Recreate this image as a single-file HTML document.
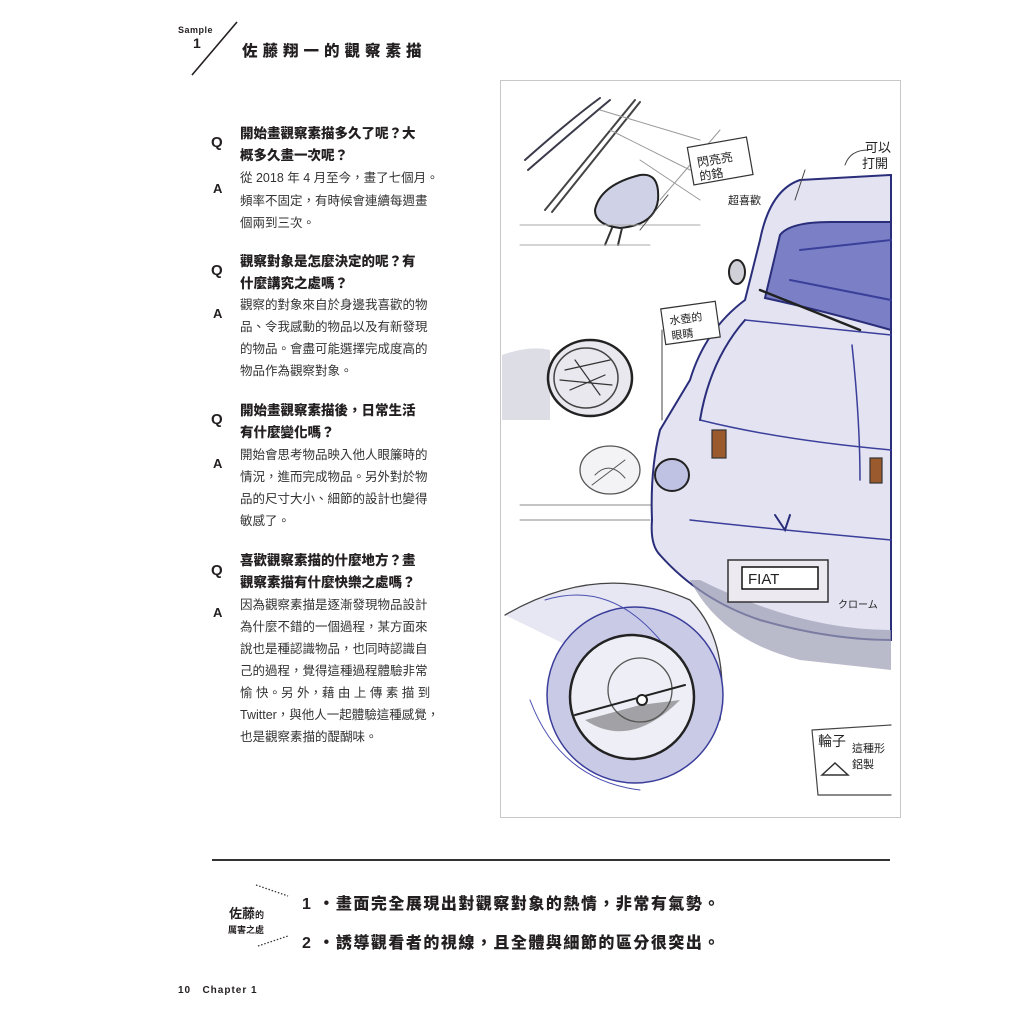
<!DOCTYPE html>
<html><head><meta charset="utf-8"><style>
html,body{margin:0;padding:0;background:#fff;}
body{width:1024px;height:1024px;position:relative;overflow:hidden;font-family:"Liberation Sans","Noto Sans CJK TC",sans-serif;color:#231f20;}
.a{position:absolute;white-space:nowrap;}
.q{font-weight:900;font-size:13.5px;letter-spacing:0px;}
.t{font-size:12.5px;letter-spacing:0px;color:#333;}
.L{font-weight:900;font-size:15px;}
</style></head><body>
<svg class="a" style="left:0;top:0" width="1024" height="1024">
<line x1="192" y1="75" x2="237" y2="22" stroke="#231f20" stroke-width="1.6"/>
<line x1="212" y1="860" x2="890" y2="860" stroke="#333" stroke-width="2"/>
<g stroke="#333" stroke-width="1.3" stroke-dasharray="1.5 1.8" fill="none">
<line x1="256" y1="885" x2="288" y2="896"/>
<line x1="258" y1="946" x2="288" y2="936"/>
</g>
<rect x="500.5" y="80.5" width="400" height="737" fill="#fff" stroke="#c8c8c8"/>
<g fill="none" stroke-linecap="round">
<path d="M525,160 Q570,120 600,98 M528,170 Q580,125 610,100" stroke="#3a3a4a" stroke-width="2"/>
<path d="M545,210 L635,100 M552,212 L640,102" stroke="#444" stroke-width="2"/>
<path d="M595,210 Q600,185 640,175 Q660,172 658,200 Q655,225 620,228 Q595,225 595,210Z" fill="#cfd2e6" stroke="#222" stroke-width="2"/>
<path d="M612,228 L605,245 M622,228 L618,245" stroke="#333" stroke-width="2"/>
<path d="M520,225 L700,225 M520,245 L650,245" stroke="#aaa" stroke-width="1"/>
<path d="M660,200 L720,130 M600,110 L700,140 M610,130 L690,170 M640,160 L700,200" stroke="#999" stroke-width="1"/>
<path d="M502,355 Q530,345 550,350 L550,420 L502,420Z" fill="#dcdde5" stroke="none"/>
<ellipse cx="590" cy="378" rx="42" ry="38" fill="#e8e8ee" stroke="#222" stroke-width="2.5"/>
<ellipse cx="586" cy="378" rx="32" ry="30" fill="none" stroke="#444" stroke-width="1.5"/>
<path d="M565,370 L610,360 M570,390 L605,375 M575,360 L600,395 M560,380 L612,385" stroke="#333" stroke-width="1.2"/>
<ellipse cx="610" cy="470" rx="30" ry="24" fill="#f3f3f6" stroke="#555" stroke-width="1.3"/>
<path d="M595,475 Q610,460 625,478 M592,485 L625,460" stroke="#555"/>
<path d="M520,505 L680,505 M520,520 L650,520" stroke="#888" stroke-width="1"/>
<path d="M505,615 Q600,560 690,600 Q730,640 720,720" fill="#e6e7f2" stroke="#444" stroke-width="1.3"/>
<circle cx="635" cy="695" r="88" fill="#c9cbe6" stroke="#3a3d9a" stroke-width="1.5"/>
<circle cx="632" cy="697" r="62" fill="#eeeef6" stroke="#222" stroke-width="2.5"/>
<circle cx="640" cy="690" r="32" fill="none" stroke="#555" stroke-width="1.3"/>
<path d="M575,715 L685,685" stroke="#222" stroke-width="2"/>
<path d="M585,720 Q630,750 680,700 L640,705Z" fill="#555" stroke="none" opacity="0.5"/>
<circle cx="642" cy="700" r="5" fill="#fff" stroke="#222" stroke-width="2"/>
<path d="M530,700 Q560,780 640,790 M545,600 Q610,580 660,640" stroke="#4a4fb0" stroke-width="1"/>
<path d="M891,175 L800,180 Q770,190 760,240 L745,300 Q705,330 690,380 L660,430 Q650,470 652,520 Q650,545 660,555 Q700,600 760,620 Q830,640 891,640Z" fill="#e3e3f2" stroke="#2a2e7a" stroke-width="2"/>
<path d="M690,580 Q720,640 800,660 L891,670 L891,630 Q800,630 700,580Z" fill="#9c9eb4" stroke="none" opacity="0.7"/>
<path d="M765,298 L780,235 Q790,222 830,222 L891,222 L891,330 Q820,310 765,298Z" fill="#7b80c6" stroke="#2a2e7a" stroke-width="2"/>
<path d="M800,250 L891,240 M790,280 L891,300" stroke="#3a3f9a" stroke-width="2"/>
<path d="M760,290 L860,330" stroke="#222" stroke-width="2.5"/>
<ellipse cx="737" cy="272" rx="8" ry="12" fill="#d0d0d8" stroke="#222" stroke-width="2"/>
<path d="M745,320 Q840,330 891,335 M700,420 Q780,440 891,450 M690,520 Q780,530 891,540" stroke="#3a3f9a" stroke-width="1.5"/>
<path d="M745,320 Q710,360 700,420" stroke="#2a2e7a" stroke-width="2"/>
<path d="M852,345 Q860,420 860,480" stroke="#3a3f9a" stroke-width="1.5"/>
<rect x="712" y="430" width="14" height="28" fill="#9a5a2e" stroke="#333" stroke-width="1.2"/>
<rect x="870" y="458" width="12" height="25" fill="#9a5a2e" stroke="#333" stroke-width="1.2"/>
<ellipse cx="672" cy="475" rx="17" ry="16" fill="#bfc2e2" stroke="#222" stroke-width="2"/>
<path d="M775,515 L785,530 L790,515" stroke="#2a2e7a" stroke-width="2"/>
<rect x="728" y="560" width="100" height="42" fill="#eceaf0" stroke="#333" stroke-width="1.5"/>
<rect x="742" y="567" width="76" height="22" fill="#fff" stroke="#111" stroke-width="1.5"/>
<path d="M805,170 Q800,185 795,200 M868,150 Q850,150 845,165 M668,195 L640,230 M662,330 L662,420" stroke="#444" stroke-width="1"/>
<rect x="690" y="142" width="60" height="38" fill="#fff" stroke="#333" stroke-width="1.2" transform="rotate(-10 720 160)"/>
<rect x="663" y="305" width="55" height="36" fill="#fff" stroke="#333" stroke-width="1.2" transform="rotate(-8 690 323)"/>
<path d="M812,730 L891,725 M812,730 L818,795 L891,795" stroke="#444" stroke-width="1.2"/>
<path d="M822,775 L835,763 L848,775Z" stroke="#333" stroke-width="1.5" fill="#fff"/>
</g>
<g font-family="Liberation Sans,Noto Sans CJK TC,sans-serif" fill="#222">
<text x="697" y="163" font-size="12" transform="rotate(-10 720 160)">閃亮亮</text>
<text x="697" y="177" font-size="12" transform="rotate(-10 720 160)">的鉻</text>
<text x="728" y="204" font-size="11">超喜歡</text>
<text x="865" y="152" font-size="13">可以</text>
<text x="862" y="168" font-size="13">打開</text>
<text x="670" y="322" font-size="11" transform="rotate(-8 690 323)">水壺的</text>
<text x="670" y="337" font-size="11" transform="rotate(-8 690 323)">眼睛</text>
<text x="748" y="584" font-size="15" font-family="Liberation Sans">FIAT</text>
<text x="838" y="608" font-size="10">クローム</text>
<text x="818" y="746" font-size="14">輪子</text>
<text x="852" y="752" font-size="11">這種形</text>
<text x="852" y="768" font-size="11">鋁製</text>
</g>
</svg>

<div class="a" style="left:178px;top:25px;font-size:9px;font-weight:bold;letter-spacing:0.5px;">Sample</div>
<div class="a" style="left:193px;top:35px;font-size:14px;font-weight:bold;">1</div>
<div class="a" style="left:242px;top:39px;font-size:15.5px;font-weight:900;letter-spacing:5px;">佐藤翔一的觀察素描</div>

<div class="a L" style="left:211px;top:134px;">Q</div>
<div class="a L" style="left:213px;top:181px;font-size:13px;">A</div>
<div class="a q" style="left:240px;top:123px;line-height:22px;">開始畫觀察素描多久了呢？大<br>概多久畫一次呢？</div>
<div class="a t" style="left:240px;top:167px;line-height:22.5px;">從 2018 年 4 月至今，畫了七個月。<br>頻率不固定，有時候會連續每週畫<br>個兩到三次。</div>

<div class="a L" style="left:211px;top:262px;">Q</div>
<div class="a L" style="left:213px;top:306px;font-size:13px;">A</div>
<div class="a q" style="left:240px;top:251px;line-height:22px;">觀察對象是怎麼決定的呢？有<br>什麼講究之處嗎？</div>
<div class="a t" style="left:240px;top:294px;line-height:22px;">觀察的對象來自於身邊我喜歡的物<br>品、令我感動的物品以及有新發現<br>的物品。會盡可能選擇完成度高的<br>物品作為觀察對象。</div>

<div class="a L" style="left:211px;top:411px;">Q</div>
<div class="a L" style="left:213px;top:456px;font-size:13px;">A</div>
<div class="a q" style="left:240px;top:400px;line-height:22px;">開始畫觀察素描後，日常生活<br>有什麼變化嗎？</div>
<div class="a t" style="left:240px;top:444px;line-height:22px;">開始會思考物品映入他人眼簾時的<br>情況，進而完成物品。另外對於物<br>品的尺寸大小、細節的設計也變得<br>敏感了。</div>

<div class="a L" style="left:211px;top:562px;">Q</div>
<div class="a L" style="left:213px;top:605px;font-size:13px;">A</div>
<div class="a q" style="left:240px;top:550px;line-height:22px;">喜歡觀察素描的什麼地方？畫<br>觀察素描有什麼快樂之處嗎？</div>
<div class="a t" style="left:240px;top:594px;line-height:22px;">因為觀察素描是逐漸發現物品設計<br>為什麼不錯的一個過程，某方面來<br>說也是種認識物品，也同時認識自<br>己的過程，覺得這種過程體驗非常<br>愉 快。另 外，藉 由 上 傳 素 描 到<br>Twitter，與他人一起體驗這種感覺，<br>也是觀察素描的醍醐味。</div>

<div class="a" style="left:229px;top:903px;font-size:13px;font-weight:bold;">佐藤<span style="font-size:9px">的</span></div>
<div class="a" style="left:228px;top:923px;font-size:9px;font-weight:bold;">厲害之處</div>
<div class="a" style="left:302px;top:890px;font-size:16px;font-weight:900;letter-spacing:1.5px;">1 ・畫面完全展現出對觀察對象的熱情，非常有氣勢。</div>
<div class="a" style="left:302px;top:929px;font-size:16px;font-weight:900;letter-spacing:1.5px;">2 ・誘導觀看者的視線，且全體與細節的區分很突出。</div>
<div class="a" style="left:178px;top:985px;font-size:10px;font-weight:bold;letter-spacing:1px;">10&nbsp;&nbsp; Chapter 1</div>
</body></html>
